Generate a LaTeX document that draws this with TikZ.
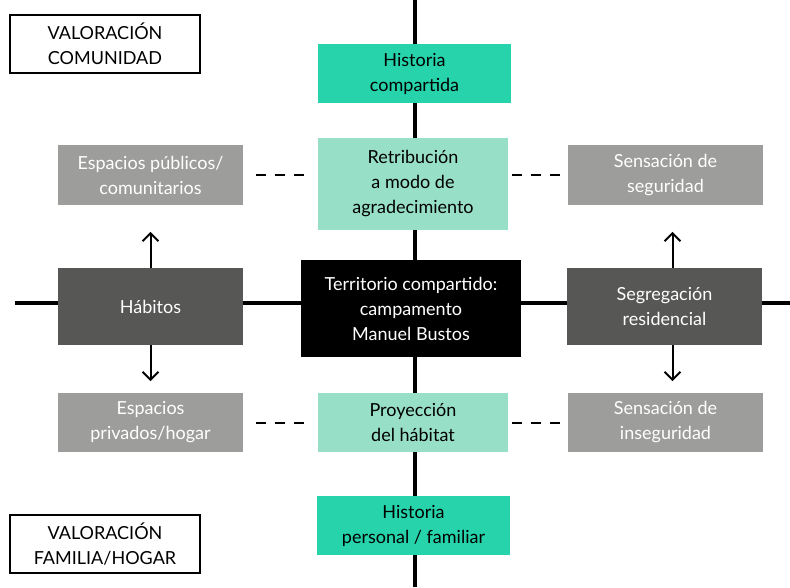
\documentclass[tikz,border=0pt]{standalone}
\usepackage{fontspec}
\setmainfont{Lato}
\usepackage{tikz}
\usetikzlibrary{arrows.meta, positioning}
\definecolor{tealdark}{HTML}{27D3AB}
\definecolor{teallight}{HTML}{97E0C7}
\definecolor{greylight}{HTML}{9D9D9C}
\definecolor{greydark}{HTML}{575756}
\tikzset{>=latex}
\tikzset{
  box/.style={inner sep=0pt, align=center, font=\fontsize{18}{25}\selectfont},
  labelbox/.style={box, draw=black, line width=2pt, fill=white, minimum width=190pt, minimum height=58pt},
  histbox/.style={box, fill=tealdark, text=black, minimum width=193pt, minimum height=59pt},
  midbox/.style={box, fill=teallight, text=black, minimum width=190pt},
  sidebox/.style={box, fill=greylight, text=white, minimum width=185pt, minimum height=60pt},
  habbox/.style={box, fill=greydark, text=white, minimum width=185pt, minimum height=77pt},
  axis/.style={line width=4.5pt},
  dashline/.style={line width=2pt, dash pattern=on 10pt off 9pt},
  uparrow/.style={line width=2pt, -{Straight Barb[length=8pt, width=16pt]}},
}

\begin{document}
\begin{tikzpicture}[x=1pt, y=-1pt]
  \useasboundingbox (0,0) rectangle (790,587);

  % START: Axes ----------------------------------
  \coordinate (ax_top) at (415,0);
  \coordinate (ax_bottom) at (415,587);
  \coordinate (ax_left) at (15,303);
  \coordinate (ax_right) at (790,303);
  \draw[axis] (ax_top) -- (ax_bottom);
  \draw[axis] (ax_left) -- (ax_right);
  % END: Axes ------------------------------------

  % START: Centre --------------------------------
  \node[box, fill=black, text=white, minimum width=220pt, minimum height=97pt]
    (territorio) at (411,308.5) {Territorio compartido:\\campamento\\Manuel Bustos};
  \node[habbox] (habitos) at (150.5,306.5) {Hábitos};
  \node[habbox, minimum width=195pt] (segreg) at (664.5,306.5) {Segregación\\residencial};
  % END: Centre ----------------------------------

  % START: Above ---------------------------------
  \node[histbox] (hist_comp) at (414.5,73.5) {Historia\\compartida};
  \node[midbox, minimum height=92pt] (retrib) at (413,184) {Retribución\\a modo de\\agradecimiento};
  \node[sidebox] (esp_pub) at (150.5,175) {Espacios públicos/\\comunitarios};
  \node[sidebox, minimum width=195pt] (seguridad) at (665.5,175) {Sensación de\\seguridad};
  % END: Above -----------------------------------

  % START: Below ---------------------------------
  \node[midbox, minimum height=59pt] (proyec) at (413,422.5) {Proyección\\del hábitat};
  \node[sidebox, minimum height=59pt] (esp_priv) at (150.5,422.5) {Espacios\\privados/hogar};
  \node[sidebox, minimum width=195pt, minimum height=59pt] (inseguridad) at (665.5,422.5) {Sensación de\\inseguridad};
  \node[histbox] (hist_pers) at (413.5,525.5) {Historia\\personal / familiar};
  % END: Below -----------------------------------

  % Corner labels
  \node[labelbox] (val_com) at (105,44) {VALORACIÓN\\COMUNIDAD};
  \node[labelbox] (val_fam) at (105,544) {VALORACIÓN\\FAMILIA/HOGAR};

  % Arrows out of the side boxes
  \draw[uparrow] (habitos.north) -- ++(0,-36);
  \draw[uparrow] (habitos.south) -- ++(0,36);
  \draw[uparrow] ([xshift=8pt]segreg.north) -- ++(0,-36);
  \draw[uparrow] ([xshift=8pt]segreg.south) -- ++(0,36);

  % Dashed links
  \draw[dashline] ([xshift=13pt]esp_pub.east) -- ([xshift=-8pt]retrib.west |- esp_pub.east);
  \draw[dashline] ([xshift=4pt]retrib.east |- seguridad.west) -- ([xshift=-3pt]seguridad.west);
  \draw[dashline] ([xshift=13pt]esp_priv.east) -- ([xshift=-8pt]proyec.west);
  \draw[dashline] ([xshift=4pt]proyec.east) -- ([xshift=-3pt]inseguridad.west);
\end{tikzpicture}
\end{document}
